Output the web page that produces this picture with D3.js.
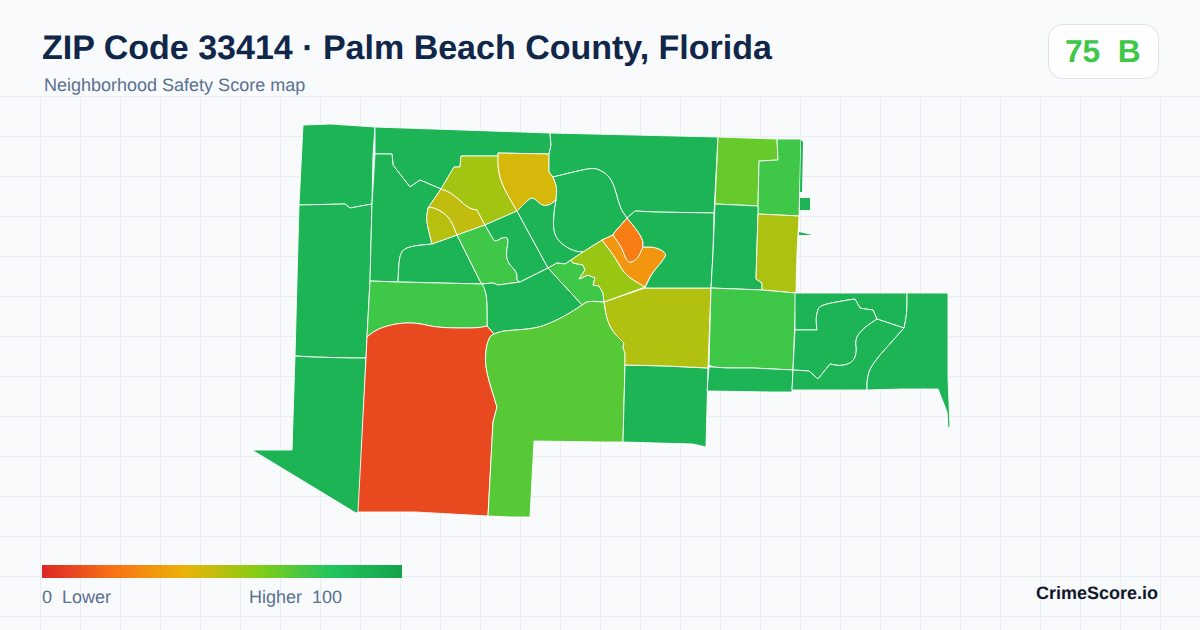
<!DOCTYPE html>
<html>
<head>
<meta charset="utf-8">
<script src="https://cdn.jsdelivr.net/npm/d3@7"></script>
<style>
	html, body { margin: 0; padding: 0; background: #f8fafc; }
	svg { display: block; }
	text { font-family: "Liberation Sans", Arial, sans-serif; white-space: pre; text-rendering: geometricPrecision; }
</style>
</head>
<body>
<div id="chart"></div>
<script>
const width = 1200;
const height = 630;

// legend
const scoreStops = [0, 20, 40, 60, 80, 100];
const scoreColors = ["#dc2626", "#f97316", "#eab308", "#84cc16", "#22c55e", "#16a34a"];

// neighborhood scores, same order as blockRings
const blockScores = [
	90, 90, 90,             // west column
	90, 90, 90,             // north-west
	50, 48, 54, 44,         // olive + yellow
	74, 90,                 // middle
	90, 90, 90, 74, 90,     // north centre
	74, 9, 69, 90, 51,      // south
	56, 31, 23, 90,         // centre knot
	66, 74, 90, 52, 74, 90, // east column
	90, 90, 90, 90,         // east
	90, 90, 90              // slivers by the coast
];

// block outlines, traced in map units
const blockRings = [
	[[303,125],[331,124],[375,127],[373,155],[372,204],[350,208],[345,204],[299,205]],
	[[299,205],[345,204],[350,208],[372,204],[370,281],[367,337],[366,358],[350,358],[313,357],[295,356]],
	[[295,356],[313,357],[350,358],[366,358],[359,512],[356,513],[252,450],[292,450]],
	[[375,127],[550,133],[551,145],[549,154],[498,153],[498,156],[461,156],[460,167],[454,167],[441,189],[420,180],[410,187],[393,165],[392,154],[375,154]],
	[[375,154],[392,154],[393,165],[410,187],[420,180],[441,189],[428,208],[426,220],[432,244],[412,246],[402,250],[399,260],[398,282],[370,281],[372,204]],
	[[432,244],[457,235],[480,281],[482,284],[440,283],[398,282],[399,260],[402,250],[412,246]],
	[[428,208],[432,207],[443,212],[451,220],[457,235],[432,244],[426,220]],
	[[441,189],[452,193],[468,208],[477,210],[485,225],[457,235],[451,220],[443,212],[432,207],[428,208]],
	[[461,156],[498,156],[498,170],[503,187],[517,211],[485,225],[477,210],[468,208],[452,193],[441,189],[454,167],[460,167]],
	[[498,153],[549,154],[549,172],[553,177],[557,187],[556,200],[550,205],[542,206],[533,197],[528,200],[517,211],[503,187],[498,170]],
	[[485,225],[492,237],[495,242],[503,237],[509,238],[506,253],[508,263],[517,272],[517,280],[520,282],[498,285],[493,283],[482,284],[480,281],[457,235]],
	[[517,211],[485,225],[492,237],[495,242],[503,237],[509,238],[506,253],[508,263],[517,272],[517,280],[520,282],[548,268]],
	[[550,133],[718,137],[714,213],[655,212],[635,211],[627,218],[620,208],[614,185],[608,175],[598,169],[590,168],[553,177],[549,172],[549,154],[551,145]],
	[[553,177],[590,168],[598,169],[608,175],[614,185],[620,208],[627,218],[614,233],[613,235],[602,240],[583,252],[573,251],[560,243],[553,232],[554,210],[556,200],[557,187]],
	[[517,211],[528,200],[533,197],[542,206],[550,205],[556,200],[554,210],[553,232],[560,243],[573,251],[583,252],[571,260],[565,264],[557,263],[548,268]],
	[[548,268],[557,263],[565,264],[571,260],[573,263],[583,265],[585,270],[579,279],[588,275],[595,278],[593,285],[599,286],[603,293],[604,302],[588,301],[582,305]],
	[[482,284],[493,283],[498,285],[520,282],[548,268],[582,305],[570,313],[553,322],[537,328],[517,330],[502,331],[494,334],[487,326],[487,300],[485,290]],
	[[370,281],[398,282],[440,283],[482,284],[485,290],[487,300],[487,326],[478,328],[452,328],[435,327],[417,323],[400,323],[383,327],[373,332],[367,337]],
	[[367,337],[373,332],[383,327],[400,323],[417,323],[435,327],[452,328],[478,328],[487,326],[494,334],[490,336],[486,347],[485,368],[497,407],[493,422],[488,516],[415,512],[358,512],[366,358]],
	[[494,334],[502,331],[517,330],[537,328],[553,322],[570,313],[582,305],[588,301],[604,302],[607,320],[613,332],[624,343],[623,348],[625,353],[625,365],[623,442],[601,442],[534,441],[530,517],[510,517],[488,516],[493,422],[497,407],[485,368],[486,347],[490,336]],
	[[625,365],[667,366],[708,368],[706,447],[693,444],[657,443],[623,442]],
	[[604,302],[645,288],[680,288],[711,288],[709,340],[708,368],[667,366],[625,365],[625,353],[623,348],[624,343],[613,332],[607,320]],
	[[602,240],[615,257],[625,275],[645,287],[604,302],[603,293],[599,286],[593,285],[595,278],[588,275],[579,279],[585,270],[583,265],[573,263],[571,260],[583,252]],
	[[602,240],[613,235],[622,248],[626,260],[631,263],[638,258],[643,247],[655,247],[665,252],[666,257],[652,273],[645,287],[625,275],[615,257]],
	[[613,235],[614,233],[627,218],[637,230],[643,240],[643,247],[638,258],[631,263],[626,260],[622,248]],
	[[635,211],[655,212],[714,213],[713,253],[711,288],[680,288],[645,288],[652,273],[666,257],[665,252],[655,247],[643,247],[643,240],[637,230],[627,218]],
	[[718,137],[777,139],[778,160],[759,161],[758,206],[715,204]],
	[[777,139],[801,139],[799,216],[758,214],[758,206],[759,161],[778,160]],
	[[715,204],[758,206],[758,214],[756,279],[762,283],[762,290],[711,288],[713,253]],
	[[758,214],[799,216],[797,253],[796,293],[762,290],[762,283],[756,279]],
	[[711,288],[762,290],[796,293],[793,370],[753,368],[727,368],[713,367],[709,365]],
	[[709,367],[713,367],[727,368],[753,368],[793,370],[792,392],[770,392],[707,391]],
	[[795,293],[907,293],[907,313],[904,328],[877,319],[873,310],[865,309],[860,308],[855,299],[848,300],[820,305],[817,312],[816,320],[817,330],[795,330]],
	[[795,330],[817,330],[816,320],[817,312],[820,305],[848,300],[855,299],[860,308],[865,309],[873,310],[877,319],[865,327],[855,338],[857,353],[852,363],[840,366],[830,364],[818,379],[809,371],[793,370]],
	[[793,370],[809,371],[818,379],[830,364],[840,366],[852,363],[857,353],[855,338],[865,327],[877,319],[904,328],[880,355],[870,368],[867,380],[867,390],[792,390]],
	[[907,293],[948,293],[948,377],[950,427],[948,428],[947,412],[938,389],[903,389],[867,390],[867,380],[870,368],[880,355],[904,328],[907,313]],
	[[801,140],[803,142],[802,192],[800,192]],
	[[800,198],[810,198],[810,210],[800,210]],
	[[799,232],[812,235],[799,235]]
];

// outline vertices that sit on a curved boundary, rounded when drawn
const curvedVertices = [
	[373,332],[383,327],[400,323],[417,323],[435,327],[452,328],[478,328],
	[490,336],[486,347],[485,368],[502,331],[517,330],[537,328],[553,322],[570,313],[588,301],[607,320],[613,332],
	[590,168],[598,169],[608,175],[614,185],[620,208],[554,210],[553,232],[560,243],[573,251],
	[557,187],[550,205],[542,206],[533,197],[528,200],[498,170],[503,187],
	[432,207],[443,212],[451,220],[452,193],[468,208],[426,220],
	[412,246],[402,250],[399,260],
	[492,237],[495,242],[503,237],[509,238],[506,253],[508,263],[517,272],
	[622,248],[626,260],[631,263],[638,258],[643,240],[637,230],
	[655,247],[665,252],[666,257],[652,273],[615,257],[625,275],
	[820,305],[817,312],[816,320],[865,327],[855,338],[857,353],[852,363],[840,366],[870,368],[867,380],[907,313],
	[485,290],[487,300]
];

const titleText = "ZIP Code 33414 · Palm Beach County, Florida";
const subtitleText = "Neighborhood Safety Score map";
const scoreText = "75  B";
const legendLow = "0  Lower";
const legendHigh = "Higher  100";
const brandText = "CrimeScore.io";

const color = d3.scaleLinear()
	.domain(scoreStops)
	.range(scoreColors)
	.interpolate(d3.interpolateRgb);

const svg = d3.select("#chart")
	.append("svg")
	.attr("width", width)
	.attr("height", height);

// background grid, starts under the header
const gridX = d3.range(40, width, 40);
const gridY = d3.range(96, height, 40);

const grid = svg.append("g")
	.attr("stroke", "#e8eef3")
	.attr("stroke-width", 1);

grid.selectAll(".vline")
	.data(gridX)
	.enter()
	.append("line")
	.attr("class", "vline")
	.attr("x1", function (d) { return d + 0.5; })
	.attr("x2", function (d) { return d + 0.5; })
	.attr("y1", 96)
	.attr("y2", height);

grid.selectAll(".hline")
	.data(gridY)
	.enter()
	.append("line")
	.attr("class", "hline")
	.attr("x1", 0)
	.attr("x2", width)
	.attr("y1", function (d) { return d + 0.5; })
	.attr("y2", function (d) { return d + 0.5; });

// round the curved vertices, neighbouring blocks get the same edge
const curvedSet = new Set(curvedVertices.map(String));

function roundRing(ring) {
	var out = [];
	ring.forEach(function (v, i) {
		if (!curvedSet.has(String(v))) {
			out.push(v);
			return;
		}
		var p = ring[(i + ring.length - 1) % ring.length];
		var n = ring[(i + 1) % ring.length];
		d3.range(0, 1.01, 0.2).forEach(function (t) {
			out.push([
				(1 - t) * (1 - t) * (p[0] + v[0]) / 2 + 2 * t * (1 - t) * v[0] + t * t * (v[0] + n[0]) / 2,
				(1 - t) * (1 - t) * (p[1] + v[1]) / 2 + 2 * t * (1 - t) * v[1] + t * t * (v[1] + n[1]) / 2
			]);
		});
	});
	return out;
}

// map
const features = blockRings.map(function (ring, i) {
	var rounded = roundRing(ring);
	return {
		type: "Feature",
		properties: { score: blockScores[i] },
		geometry: { type: "Polygon", coordinates: [rounded.concat([rounded[0]])] }
	};
});

const path = d3.geoPath(d3.geoIdentity());

svg.append("g")
	.attr("class", "blocks")
	.selectAll("path")
	.data(features)
	.enter()
	.append("path")
	.attr("d", path)
	.attr("fill", function (d) { return color(d.properties.score); })
	.attr("stroke", "#ffffff")
	.attr("stroke-width", 0.9)
	.attr("stroke-linejoin", "round");

// slivers have no white edge
svg.select(".blocks").selectAll("path")
	.filter(function (d, i) { return i >= blockRings.length - 3; })
	.attr("stroke", "none");

// header
svg.append("text")
	.attr("x", 42)
	.attr("y", 59)
	.attr("font-size", 34)
	.attr("font-weight", 700)
	.attr("fill", "#10274a")
	.text(titleText);

svg.append("text")
	.attr("x", 44)
	.attr("y", 91)
	.attr("font-size", 18)
	.attr("fill", "#5a7190")
	.text(subtitleText);

svg.append("rect")
	.attr("x", 1048.5)
	.attr("y", 24.5)
	.attr("width", 110)
	.attr("height", 54)
	.attr("rx", 14)
	.attr("fill", "#ffffff")
	.attr("stroke", "#dde3ed");

svg.append("text")
	.attr("x", 1065)
	.attr("y", 62)
	.attr("font-size", 31.7)
	.attr("font-weight", 700)
	.attr("fill", color(74))
	.text(scoreText);

// legend
const legendX = d3.scaleLinear().domain([0, 100]).range([42, 402]);

const gradient = svg.append("defs")
	.append("linearGradient")
	.attr("id", "scoreRamp");

gradient.selectAll("stop")
	.data(scoreStops)
	.enter()
	.append("stop")
	.attr("offset", function (d) { return d + "%"; })
	.attr("stop-color", function (d) { return color(d); });

svg.append("rect")
	.attr("x", legendX(0))
	.attr("y", 565)
	.attr("width", legendX(100) - legendX(0))
	.attr("height", 13)
	.attr("fill", "url(#scoreRamp)");

svg.append("text")
	.attr("x", legendX(0))
	.attr("y", 603)
	.attr("font-size", 18)
	.attr("fill", "#5a7190")
	.text(legendLow);

svg.append("text")
	.attr("x", 249)
	.attr("y", 603)
	.attr("font-size", 18)
	.attr("fill", "#5a7190")
	.text(legendHigh);

svg.append("text")
	.attr("x", 1158)
	.attr("y", 599)
	.attr("text-anchor", "end")
	.attr("font-size", 18)
	.attr("font-weight", 700)
	.attr("fill", "#0f172a")
	.text(brandText);
</script>
</body>
</html>
